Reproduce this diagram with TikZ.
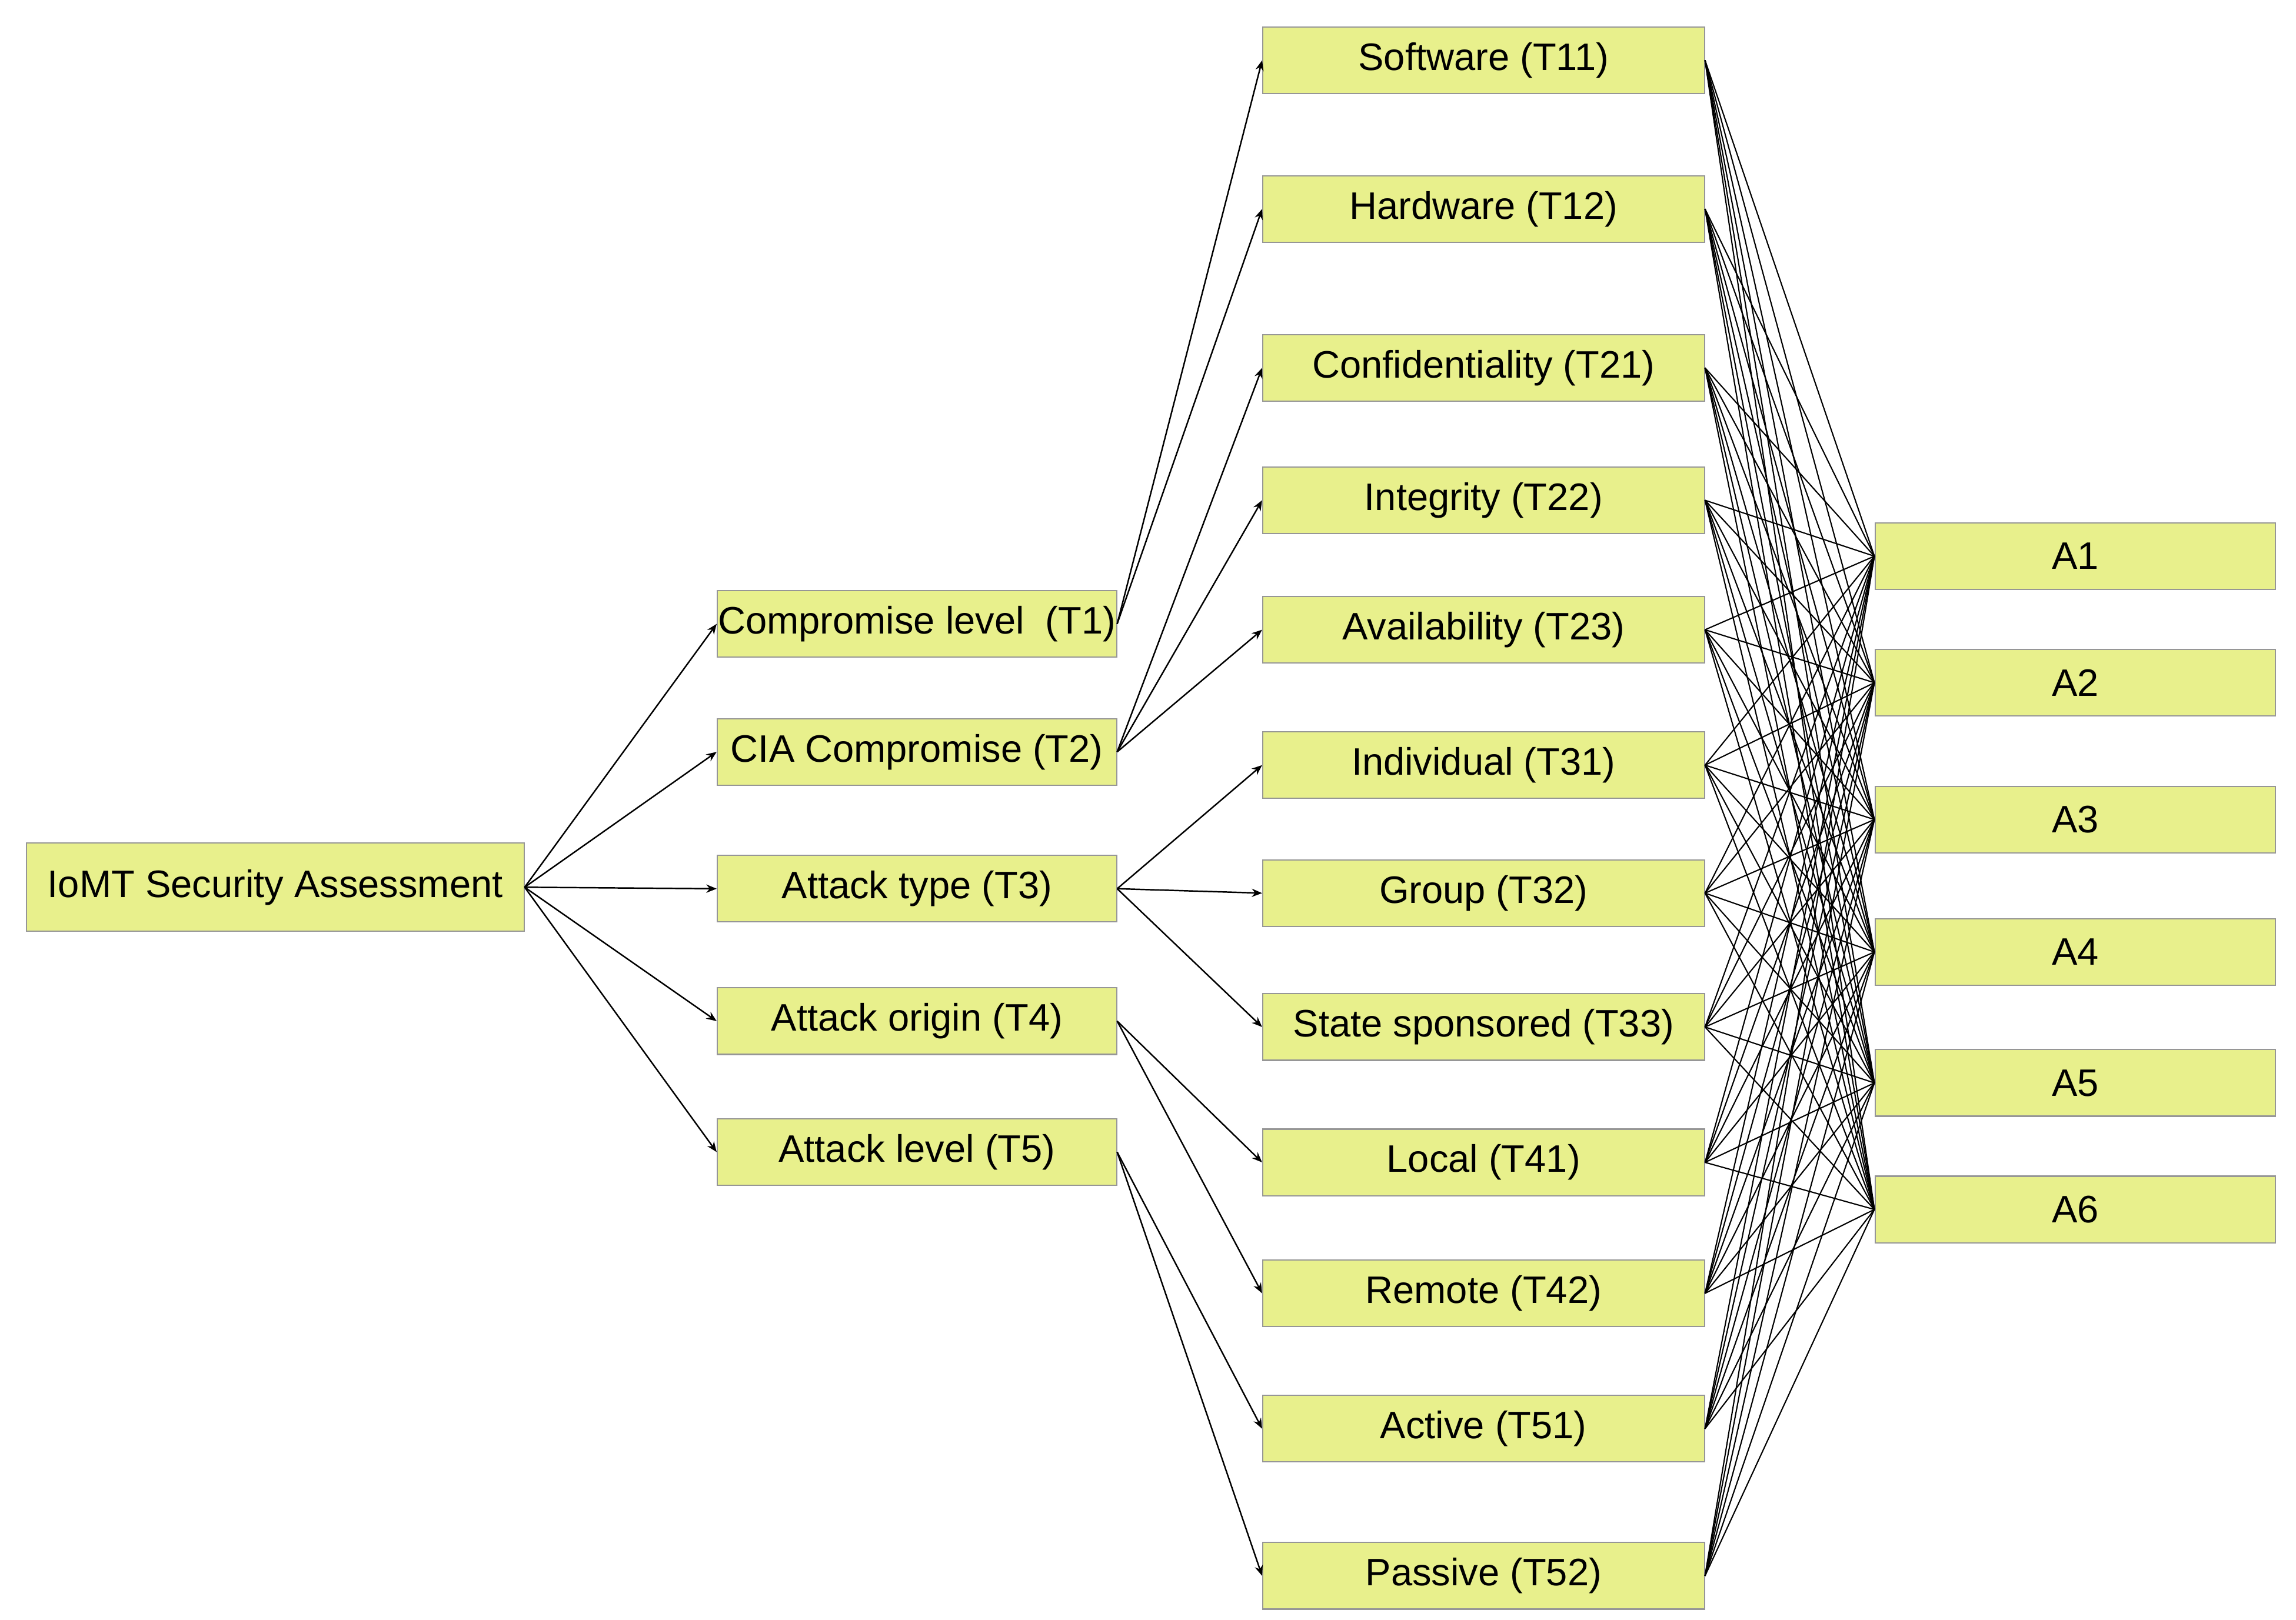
\documentclass[tikz,border=0pt]{standalone}
\usepackage{fontspec}
\setmainfont{Liberation Sans}
\usetikzlibrary{arrows.meta}
\definecolor{boxfill}{RGB}{232,240,140}
\definecolor{boxline}{RGB}{150,150,150}
\begin{document}
\begin{tikzpicture}[x=0.025cm,y=-0.025cm,
  box/.style={draw=boxline,fill=boxfill,line width=0.6pt,minimum height=1.13cm,inner sep=0pt,font=\fontsize{18.5}{21}\selectfont},
  arr/.style={-{Stealth[length=5pt,width=4pt]},line width=0.7pt},
  ln/.style={line width=0.6pt}]
\fill[white] (0,0) rectangle (1560,1101);
\useasboundingbox (0,0) rectangle (1560,1101);
\node[box,minimum width=8.45cm,minimum height=1.5cm] (R) at (187,603) {IoMT Security Assessment};
\foreach \n/\y/\t in {T1/424/{Compromise level\ \ (T1)},T2/511/{CIA Compromise (T2)},T3/604/{Attack type (T3)},T4/694/{Attack origin (T4)},T5/783/{Attack level (T5)}}
  \node[box,minimum width=6.78cm] (\n) at (623,\y) {\t};
\foreach \n/\y/\t in {T11/41/{Software (T11)},T12/142/{Hardware (T12)},T21/250/{Confidentiality (T21)},T22/340/{Integrity (T22)},T23/428/{Availability (T23)},T31/520/{Individual (T31)},T32/607/{Group (T32)},T33/698/{State sponsored (T33)},T41/790/{Local (T41)},T42/879/{Remote (T42)},T51/971/{Active (T51)},T52/1071/{Passive (T52)}}
  \node[box,minimum width=7.5cm] (\n) at (1008,\y) {\t};
\foreach \n/\y in {A1/378,A2/464,A3/557,A4/647,A5/736,A6/822}
  \node[box,minimum width=6.8cm] (\n) at (1410,\y) {\n};
\foreach \t in {T1,T2,T3,T4,T5} \draw[arr] (R.east) -- (\t.west);
\foreach \s/\t in {T1/T11,T1/T12,T2/T21,T2/T22,T2/T23,T3/T31,T3/T32,T3/T33,T4/T41,T4/T42,T5/T51,T5/T52}
  \draw[arr] (\s.east) -- (\t.west);
\foreach \t in {T11,T12,T21,T22,T23,T31,T32,T33,T41,T42,T51,T52}
  \foreach \a in {A1,A2,A3,A4,A5,A6}
    \draw[ln] (\t.east) -- (\a.west);
\end{tikzpicture}
\end{document}
